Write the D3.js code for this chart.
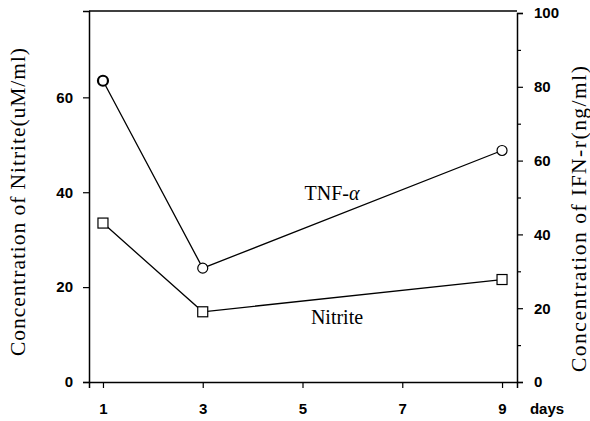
<!DOCTYPE html>
<meta charset="utf-8">
<style>
body { margin: 0; background: #fff; }
.tick text { font: 600 15px "Liberation Sans", Arial, sans-serif; fill: #000; }
.lbl { font: 20px "Liberation Serif", "Times New Roman", serif; fill: #000; }
.ylbl { font: 21.5px "Liberation Serif", "Times New Roman", serif; fill: #000; }
</style>
<script src="https://d3js.org/d3.v7.min.js"></script>
<body>
<svg width="590" height="421"></svg>
<script>
// data (left axis units, uM/ml)
var days = [1, 3, 9];
var tnf = [63.5, 24, 48.8];
var nitrite = [33.5, 14.8, 21.6];
var xTicks = [1, 3, 5, 7, 9];
var leftTicks = [0, 20, 40, 60];
var rightTicks = [0, 20, 40, 60, 80, 100];
var rightMinor = [10, 30, 50, 70, 90];

var svg = d3.select("svg");

var x = d3.scaleLinear().domain([0.72, 9.3]).range([89, 517]);
var yL = d3.scaleLinear().domain([0, 78.2]).range([382, 11]);
var yR = d3.scaleLinear().domain([0, 100]).range([382, 13]);

// frame top
svg.append("line").attr("x1", 89).attr("x2", 517).attr("y1", 11).attr("y2", 11)
  .attr("stroke", "#000").attr("stroke-width", 1.5);

svg.append("g").attr("transform", "translate(0,382)")
  .call(d3.axisBottom(x).tickValues(xTicks).tickSize(6).tickPadding(15));
svg.append("g").attr("transform", "translate(89,0)")
  .call(d3.axisLeft(yL).tickValues(leftTicks).tickSize(6).tickPadding(10));
svg.append("g").attr("transform", "translate(517,0)")
  .call(d3.axisRight(yR).tickValues(rightTicks).tickSize(6).tickPadding(11));
svg.append("g").attr("transform", "translate(517,0)")
  .call(d3.axisRight(yR).tickValues(rightMinor).tickSize(4).tickFormat(""))
  .select(".domain").remove();

svg.selectAll(".domain").attr("stroke-width", 1.5);
svg.selectAll(".tick line").attr("stroke-width", 1.2);

svg.append("text").attr("x", 547).attr("y", 414)
  .attr("text-anchor", "middle")
  .style("font", "600 15px 'Liberation Sans', Arial, sans-serif").text("days");

var line = d3.line().x(function(d, i) { return x(days[i]); }).y(function(d) { return yL(d); });

svg.append("path").datum(tnf).attr("d", line).attr("fill", "none").attr("stroke", "#000").attr("stroke-width", 1.3);
svg.append("path").datum(nitrite).attr("d", line).attr("fill", "none").attr("stroke", "#000").attr("stroke-width", 1.3);

svg.selectAll(".c").data(tnf).enter().append("circle")
  .attr("cx", function(d, i) { return x(days[i]); })
  .attr("cy", function(d) { return yL(d); })
  .attr("r", 5).attr("fill", "#fff").attr("stroke", "#000")
  .attr("stroke-width", function(d, i) { return i == 0 ? 2.2 : 1.2; });

svg.selectAll(".s").data(nitrite).enter().append("rect")
  .attr("x", function(d, i) { return x(days[i]) - 5; })
  .attr("y", function(d) { return yL(d) - 5; })
  .attr("width", 10).attr("height", 10)
  .attr("fill", "#fff").attr("stroke", "#000").attr("stroke-width", 1.2);

svg.append("text").attr("class", "lbl").attr("x", 332).attr("y", 200).attr("text-anchor", "middle")
  .text("TNF-").append("tspan").style("font-style", "italic").text("α");
svg.append("text").attr("class", "lbl").attr("x", 337).attr("y", 324).attr("text-anchor", "middle").text("Nitrite");

svg.append("text").attr("class", "ylbl")
  .attr("transform", "translate(25,202) rotate(-90)").attr("text-anchor", "middle")
  .attr("textLength", 308).attr("lengthAdjust", "spacing")
  .text("Concentration of Nitrite(uM/ml)");
svg.append("text").attr("class", "ylbl")
  .attr("transform", "translate(586,219) rotate(-90)").attr("text-anchor", "middle")
  .attr("textLength", 306).attr("lengthAdjust", "spacing")
  .text("Concentration of IFN-r(ng/ml)");
</script>
</body>
